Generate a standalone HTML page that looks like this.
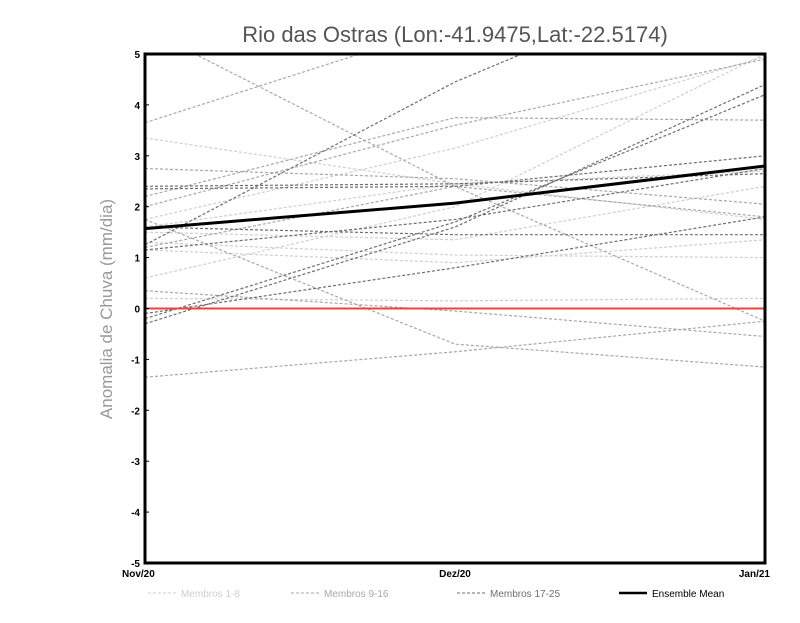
<!DOCTYPE html>
<html><head><meta charset="utf-8"><style>
body{margin:0;background:#fff;}
svg text{font-family:"Liberation Sans",sans-serif;}
</style></head><body>
<svg id="c" width="800" height="618" xmlns="http://www.w3.org/2000/svg">
<defs><clipPath id="pc"><rect x="145" y="54" width="620" height="509"/></clipPath></defs>
<text x="455" y="42" text-anchor="middle" font-size="22" fill="#555">Rio das Ostras (Lon:-41.9475,Lat:-22.5174)</text>
<text transform="translate(112,309) rotate(-90)" text-anchor="middle" font-size="17" fill="#999">Anomalia de Chuva (mm/dia)</text>
<g id="series" clip-path="url(#pc)"></g>
<g id="axes"></g>
<g id="legend"></g>
</svg>
<script>
const categories=["Nov/20","Dez/20","Jan/21"];
const yTicks=[-5,-4,-3,-2,-1,0,1,2,3,4,5];
const light=[[3.35,2.45,1.75],[0.6,2.0,5.0],[1.75,3.15,4.95],[1.5,1.35,2.4],[1.3,1.05,1.0],[1.15,0.9,1.35],[0.2,0.15,0.2],[1.6,2.45,2.7]];
const mid=[[3.65,5.6,6.5],[2.2,3.75,3.7],[2.0,3.6,4.9],[2.75,2.55,2.05],[1.2,2.4,1.8],[0.35,-0.05,-0.55],[1.75,-0.7,-1.15],[-1.35,-0.85,-0.25],[5.5,2.4,-0.25]];
const dark=[[1.25,4.45,7.0],[2.35,2.4,3.0],[2.4,2.45,2.65],[-0.3,1.6,4.4],[-0.2,1.7,4.2],[1.15,1.75,2.75],[1.6,1.45,1.45],[-0.1,0.8,1.8]];
const mean=[1.57,2.07,2.8];
const NS="http://www.w3.org/2000/svg";
const X0=145,X1=765,Y0=563,Y1=54;
const xs=i=>X0+(X1-X0)*i/(categories.length-1);
const ys=v=>Y0-(v+5)/10*(Y0-Y1);
function mk(t,a,p){const e=document.createElementNS(NS,t);for(const k in a)e.setAttribute(k,a[k]);p.appendChild(e);return e;}
const S=document.getElementById('series'),A=document.getElementById('axes'),L=document.getElementById('legend');
function drawGroup(arr,col,name){arr.forEach((s,j)=>{const p=mk('polyline',{points:s.map((v,i)=>xs(i)+','+ys(v)).join(' '),fill:'none',stroke:col,'stroke-width':1.2,'stroke-dasharray':'3,2'},S);

});}
drawGroup(light,'#cfcfcf','light-member-line');
drawGroup(mid,'#a8a8a8','mid-member-line');
drawGroup(dark,'#6e6e6e','dark-member-line');
const zl=mk('line',{x1:X0,x2:X1,y1:ys(0),y2:ys(0),stroke:'#f04040','stroke-width':2},S);


const ml=mk('polyline',{points:mean.map((v,i)=>xs(i)+','+ys(v)).join(' '),fill:'none',stroke:'#000','stroke-width':3},S);


const fr=mk('rect',{x:X0,y:Y1,width:X1-X0,height:Y0-Y1,fill:'none',stroke:'#000','stroke-width':3},A);


yTicks.forEach(v=>{const t=mk('text',{x:140,y:ys(v)+4,'text-anchor':'end','font-size':10,'font-weight':'bold'},A);t.textContent=v;


mk('line',{x1:X0,x2:X0+4,y1:ys(v),y2:ys(v),stroke:'#000','stroke-width':1},A);});
categories.forEach((c,i)=>{const anc=i==0?'start':(i==categories.length-1?'end':'middle');const t=mk('text',{x:i==0?122:(i==categories.length-1?770:xs(i)),y:577,'text-anchor':anc,'font-size':10,'font-weight':'bold'},A);t.textContent=c;

});
const leg=[['Membros 1-8','#cfcfcf',148,'3,2',1],['Membros 9-16','#a8a8a8',291,'3,2',1],['Membros 17-25','#6e6e6e',457,'3,2',1],['Ensemble Mean','#000',619,'',2.5]];
leg.forEach(l=>{mk('line',{x1:l[2],x2:l[2]+28,y1:593,y2:593,stroke:l[1],'stroke-width':l[4],'stroke-dasharray':l[3]},L);
const t=mk('text',{x:l[2]+33,y:597,'font-size':10,fill:l[0]=='Ensemble Mean'?'#000':l[1]},L);t.textContent=l[0];

});
</script>
</body></html>
